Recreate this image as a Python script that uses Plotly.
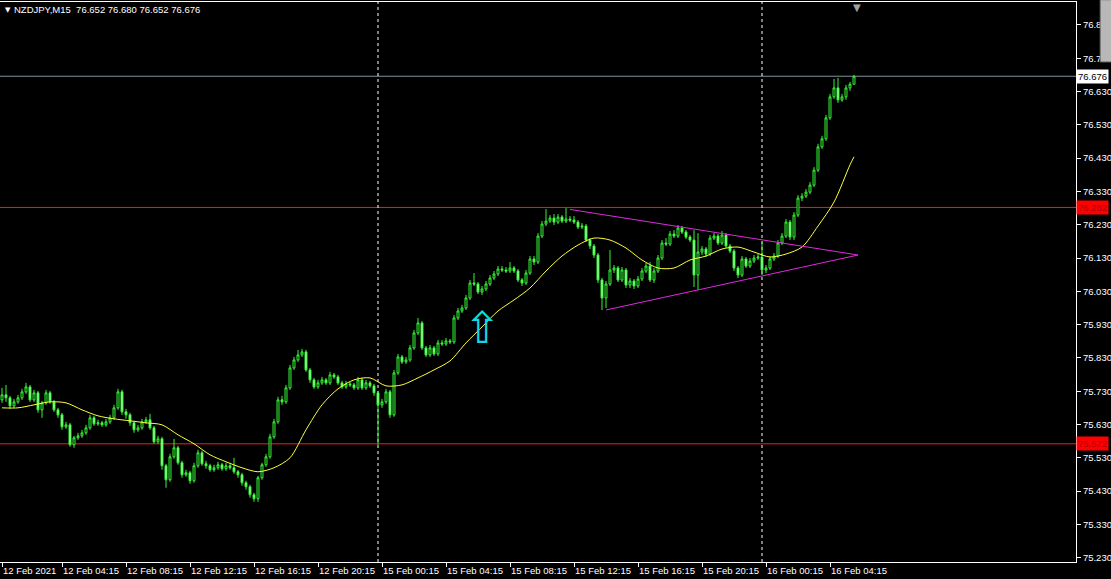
import plotly.graph_objects as go

# ---------------- data (NZDJPY, M15) ----------------
OPEN = [
 75.704, 75.719, 75.710, 75.686, 75.698, 75.710, 75.728, 75.743, 75.704, 75.725,
 75.674, 75.695, 75.725, 75.698, 75.674, 75.659, 75.623, 75.629, 75.569, 75.590,
 75.596, 75.605, 75.620, 75.650, 75.632, 75.635, 75.629, 75.638, 75.650, 75.680,
 75.728, 75.668, 75.659, 75.635, 75.614, 75.620, 75.638, 75.644, 75.620, 75.578,
 75.587, 75.506, 75.464, 75.533, 75.560, 75.515, 75.479, 75.485, 75.461, 75.506,
 75.545, 75.512, 75.506, 75.494, 75.500, 75.509, 75.497, 75.506, 75.500, 75.488,
 75.479, 75.455, 75.443, 75.419, 75.407, 75.470, 75.509, 75.533, 75.593, 75.638,
 75.704, 75.698, 75.740, 75.800, 75.824, 75.839, 75.848, 75.794, 75.764, 75.743,
 75.755, 75.764, 75.755, 75.779, 75.773, 75.755, 75.743, 75.752, 75.749, 75.740,
 75.764, 75.740, 75.755, 75.746, 75.725, 75.689, 75.698, 75.728, 75.659, 75.785,
 75.833, 75.818, 75.824, 75.860, 75.905, 75.935, 75.860, 75.839, 75.860, 75.842,
 75.875, 75.872, 75.881, 75.878, 75.950, 75.971, 75.980, 76.010, 76.055, 76.052,
 76.028, 76.037, 76.052, 76.070, 76.082, 76.097, 76.094, 76.091, 76.100, 76.091,
 76.064, 76.055, 76.085, 76.127, 76.118, 76.196, 76.232, 76.241, 76.250, 76.238,
 76.253, 76.241, 76.247, 76.244, 76.238, 76.223, 76.226, 76.184, 76.166, 76.139,
 76.064, 76.010, 76.052, 76.094, 76.100, 76.064, 76.094, 76.049, 76.061, 76.046,
 76.067, 76.091, 76.106, 76.064, 76.091, 76.130, 76.175, 76.172, 76.202, 76.196,
 76.220, 76.208, 76.193, 76.184, 76.079, 76.148, 76.157, 76.142, 76.190, 76.196,
 76.175, 76.199, 76.166, 76.151, 76.100, 76.079, 76.127, 76.106, 76.121, 76.130,
 76.133, 76.094, 76.100, 76.127, 76.136, 76.175, 76.196, 76.238, 76.193, 76.259,
 76.310, 76.316, 76.328, 76.349, 76.394, 76.464, 76.488, 76.551, 76.614, 76.641,
 76.605, 76.614, 76.641, 76.652]

HIGH = [
 75.740, 75.749, 75.716, 75.707, 75.719, 75.737, 75.755, 75.749, 75.734, 75.731,
 75.701, 75.734, 75.731, 75.704, 75.680, 75.665, 75.638, 75.635, 75.596, 75.605,
 75.614, 75.629, 75.659, 75.656, 75.644, 75.641, 75.647, 75.659, 75.689, 75.737,
 75.734, 75.677, 75.665, 75.641, 75.629, 75.647, 75.653, 75.662, 75.626, 75.596,
 75.593, 75.512, 75.542, 75.587, 75.566, 75.521, 75.494, 75.491, 75.515, 75.554,
 75.551, 75.521, 75.512, 75.509, 75.518, 75.515, 75.515, 75.515, 75.530, 75.494,
 75.485, 75.461, 75.449, 75.425, 75.476, 75.515, 75.542, 75.602, 75.647, 75.713,
 75.716, 75.749, 75.809, 75.833, 75.854, 75.857, 75.854, 75.800, 75.770, 75.764,
 75.773, 75.770, 75.788, 75.785, 75.779, 75.761, 75.761, 75.758, 75.755, 75.773,
 75.770, 75.764, 75.761, 75.752, 75.731, 75.707, 75.737, 75.734, 75.794, 75.842,
 75.839, 75.833, 75.869, 75.914, 75.950, 75.941, 75.866, 75.869, 75.866, 75.884,
 75.884, 75.890, 75.887, 75.959, 75.980, 75.989, 76.019, 76.064, 76.085, 76.058,
 76.046, 76.061, 76.079, 76.091, 76.106, 76.106, 76.103, 76.118, 76.106, 76.097,
 76.070, 76.094, 76.136, 76.136, 76.205, 76.241, 76.277, 76.259, 76.262, 76.262,
 76.259, 76.280, 76.256, 76.256, 76.244, 76.235, 76.232, 76.190, 76.172, 76.145,
 76.070, 76.061, 76.154, 76.109, 76.106, 76.103, 76.100, 76.070, 76.067, 76.076,
 76.100, 76.115, 76.118, 76.100, 76.139, 76.184, 76.190, 76.211, 76.214, 76.229,
 76.226, 76.214, 76.199, 76.214, 76.205, 76.166, 76.163, 76.199, 76.205, 76.202,
 76.211, 76.205, 76.172, 76.157, 76.106, 76.136, 76.133, 76.130, 76.139, 76.142,
 76.178, 76.109, 76.136, 76.145, 76.184, 76.205, 76.247, 76.244, 76.268, 76.319,
 76.325, 76.337, 76.358, 76.403, 76.473, 76.497, 76.560, 76.623, 76.668, 76.671,
 76.623, 76.650, 76.659, 76.680]

LOW = [
 75.695, 75.698, 75.677, 75.680, 75.692, 75.704, 75.722, 75.698, 75.698, 75.665,
 75.650, 75.689, 75.692, 75.668, 75.650, 75.614, 75.617, 75.563, 75.560, 75.584,
 75.590, 75.599, 75.614, 75.626, 75.626, 75.623, 75.623, 75.632, 75.644, 75.674,
 75.659, 75.647, 75.626, 75.605, 75.608, 75.614, 75.632, 75.614, 75.572, 75.572,
 75.494, 75.440, 75.458, 75.527, 75.509, 75.470, 75.473, 75.452, 75.455, 75.500,
 75.506, 75.497, 75.488, 75.488, 75.494, 75.491, 75.491, 75.494, 75.482, 75.470,
 75.446, 75.434, 75.410, 75.398, 75.398, 75.464, 75.503, 75.527, 75.587, 75.632,
 75.689, 75.692, 75.734, 75.794, 75.818, 75.833, 75.788, 75.755, 75.737, 75.737,
 75.749, 75.749, 75.749, 75.767, 75.749, 75.737, 75.737, 75.743, 75.734, 75.734,
 75.734, 75.734, 75.740, 75.716, 75.569, 75.680, 75.692, 75.650, 75.653, 75.779,
 75.812, 75.812, 75.818, 75.854, 75.899, 75.854, 75.833, 75.833, 75.836, 75.836,
 75.866, 75.866, 75.872, 75.872, 75.944, 75.965, 75.974, 76.004, 76.046, 76.022,
 76.019, 76.031, 76.046, 76.064, 76.076, 76.088, 76.085, 76.085, 76.085, 76.058,
 76.046, 76.049, 76.079, 76.109, 76.112, 76.190, 76.226, 76.235, 76.229, 76.232,
 76.235, 76.235, 76.238, 76.232, 76.217, 76.217, 76.178, 76.157, 76.130, 76.055,
 75.974, 75.980, 76.046, 76.085, 76.058, 76.058, 76.040, 76.040, 76.037, 76.040,
 76.061, 76.085, 76.058, 76.055, 76.085, 76.124, 76.166, 76.166, 76.190, 76.190,
 76.202, 76.187, 76.178, 76.043, 76.034, 76.139, 76.133, 76.136, 76.184, 76.169,
 76.169, 76.160, 76.145, 76.091, 76.070, 76.073, 76.100, 76.100, 76.115, 76.124,
 76.079, 76.085, 76.094, 76.121, 76.130, 76.169, 76.190, 76.184, 76.184, 76.253,
 76.301, 76.310, 76.322, 76.343, 76.388, 76.458, 76.482, 76.545, 76.608, 76.596,
 76.599, 76.605, 76.632, 76.652]

CLOSE = [
 75.719, 75.710, 75.686, 75.698, 75.710, 75.728, 75.743, 75.704, 75.725, 75.674,
 75.695, 75.725, 75.698, 75.674, 75.659, 75.623, 75.629, 75.569, 75.590, 75.596,
 75.605, 75.620, 75.650, 75.632, 75.635, 75.629, 75.638, 75.650, 75.680, 75.728,
 75.668, 75.659, 75.635, 75.614, 75.620, 75.638, 75.644, 75.620, 75.578, 75.587,
 75.506, 75.464, 75.533, 75.560, 75.515, 75.479, 75.485, 75.461, 75.506, 75.545,
 75.512, 75.506, 75.494, 75.500, 75.509, 75.497, 75.506, 75.500, 75.488, 75.479,
 75.455, 75.443, 75.419, 75.407, 75.470, 75.509, 75.533, 75.593, 75.638, 75.704,
 75.698, 75.740, 75.800, 75.824, 75.839, 75.848, 75.794, 75.764, 75.743, 75.755,
 75.764, 75.755, 75.779, 75.773, 75.755, 75.743, 75.752, 75.749, 75.740, 75.764,
 75.740, 75.755, 75.746, 75.725, 75.689, 75.698, 75.728, 75.659, 75.785, 75.833,
 75.818, 75.824, 75.860, 75.905, 75.935, 75.860, 75.839, 75.860, 75.842, 75.875,
 75.872, 75.881, 75.878, 75.950, 75.971, 75.980, 76.010, 76.055, 76.052, 76.028,
 76.037, 76.052, 76.070, 76.082, 76.097, 76.094, 76.091, 76.100, 76.091, 76.064,
 76.055, 76.085, 76.127, 76.118, 76.196, 76.232, 76.241, 76.250, 76.238, 76.253,
 76.241, 76.247, 76.244, 76.238, 76.223, 76.226, 76.184, 76.166, 76.139, 76.064,
 76.010, 76.052, 76.094, 76.100, 76.064, 76.094, 76.049, 76.061, 76.046, 76.067,
 76.091, 76.106, 76.064, 76.091, 76.130, 76.175, 76.172, 76.202, 76.196, 76.220,
 76.208, 76.193, 76.184, 76.079, 76.148, 76.157, 76.142, 76.190, 76.196, 76.175,
 76.199, 76.166, 76.151, 76.100, 76.079, 76.127, 76.106, 76.121, 76.130, 76.133,
 76.094, 76.100, 76.127, 76.136, 76.175, 76.196, 76.238, 76.193, 76.259, 76.310,
 76.316, 76.328, 76.349, 76.394, 76.464, 76.488, 76.551, 76.614, 76.641, 76.605,
 76.614, 76.641, 76.652, 76.676]

# moving average (every 4th bar + last bar)
MA_BARS = [0, 4, 8, 12, 16, 20, 24, 28, 32, 36, 40, 44, 48, 52, 56, 60, 64, 68, 72, 76,
           80, 84, 88, 92, 96, 100, 104, 108, 112, 116, 120, 124, 128, 132, 136, 140,
           144, 148, 152, 156, 160, 164, 168, 172, 176, 180, 184, 188, 192, 196, 200,
           204, 208, 212, 213]
MA_VALUES = [
 75.680, 75.680, 75.689, 75.698, 75.695, 75.674, 75.656, 75.647, 75.641, 75.635,
 75.629, 75.599, 75.572, 75.539, 75.518, 75.500, 75.488, 75.500, 75.530, 75.614,
 75.689, 75.737, 75.764, 75.770, 75.746, 75.749, 75.770, 75.794, 75.821, 75.875,
 75.923, 75.971, 76.004, 76.040, 76.091, 76.136, 76.169, 76.190, 76.184, 76.160,
 76.124, 76.100, 76.100, 76.124, 76.136, 76.157, 76.163, 76.148, 76.133, 76.142,
 76.163, 76.226, 76.298, 76.410, 76.434]

# triangle trendlines (bar index, price)
TRI_UPPER_X = [142, 214]
TRI_UPPER_Y = [76.276, 76.139]
TRI_LOWER_X = [151, 214]
TRI_LOWER_Y = [75.974, 76.139]

ARROW_BAR = 120
ARROW_PRICE = 75.921

RED_LEVELS = [76.282, 75.572]
BID_LEVEL = 76.676
SEPARATOR_BARS = [94, 190]

XTICK_BARS = [0, 15, 31, 47, 63, 79, 95, 111, 127, 143, 159, 175, 191, 207]
XTICK_LABELS = ["12 Feb 2021", "12 Feb 04:15", "12 Feb 08:15", "12 Feb 12:15",
                "12 Feb 16:15", "12 Feb 20:15", "15 Feb 00:15", "15 Feb 04:15",
                "15 Feb 08:15", "15 Feb 12:15", "15 Feb 16:15", "15 Feb 20:15",
                "16 Feb 00:15", "16 Feb 04:15"]
YTICKS = [76.830, 76.730, 76.630, 76.530, 76.430, 76.330, 76.230, 76.130, 76.030,
          75.930, 75.830, 75.730, 75.630, 75.530, 75.430, 75.330, 75.230]

TITLE = "NZDJPY,M15  76.652 76.680 76.652 76.676"

# ---------------- styling ----------------
GREEN = "#36F536"
BEAR_FILL = "#B4FFB4"
FONT = "Liberation Sans"
TXT = "#FFFFFF"
FS = 9.5

X = list(range(len(CLOSE)))

fig = go.Figure()
fig.add_trace(go.Candlestick(
    x=X, open=OPEN, high=HIGH, low=LOW, close=CLOSE,
    increasing=dict(line=dict(color=GREEN, width=1), fillcolor="#000000"),
    decreasing=dict(line=dict(color=GREEN, width=1), fillcolor=BEAR_FILL),
    whiskerwidth=0, hoverinfo="skip", showlegend=False))
fig.add_trace(go.Scatter(
    x=MA_BARS, y=MA_VALUES, mode="lines",
    line=dict(color="#FFFF3C", width=1, shape="spline", smoothing=0.8),
    hoverinfo="skip", showlegend=False))
for xs, ys in ((TRI_UPPER_X, TRI_UPPER_Y), (TRI_LOWER_X, TRI_LOWER_Y)):
    fig.add_trace(go.Scatter(x=xs, y=ys, mode="lines",
                             line=dict(color="#E028E0", width=1),
                             hoverinfo="skip", showlegend=False))

shapes = []
for lvl in RED_LEVELS:
    shapes.append(dict(type="line", xref="paper", x0=0, x1=1, yref="y", y0=lvl, y1=lvl,
                       line=dict(color="#FF1A1A", width=1), layer="below"))
shapes.append(dict(type="line", xref="paper", x0=0, x1=1, yref="y", y0=BID_LEVEL, y1=BID_LEVEL,
                   line=dict(color="#8090A0", width=1), layer="below"))
for b in SEPARATOR_BARS:
    shapes.append(dict(type="line", xref="x", x0=b, x1=b, yref="paper", y0=0, y1=1,
                       line=dict(color="#FFFFFF", width=1, dash="3px,3px"), layer="below"))
# grey scale box at the top right corner
shapes.append(dict(type="rect", xref="paper", yref="paper", x0=1.0225, x1=1.0335,
                   y0=0.893, y1=1.004, fillcolor="#B8B8B8", line=dict(color="#707070", width=1)))

annotations = [
    dict(text=TITLE, xref="paper", yref="paper", x=0.0115, y=0.986, xanchor="left",
         yanchor="middle", showarrow=False, font=dict(family=FONT, size=FS, color=TXT)),
    dict(text="▼", xref="paper", yref="paper", x=0.0025, y=0.986, xanchor="left",
         yanchor="middle", showarrow=False, font=dict(family="DejaVu Sans", size=7, color=TXT)),
    dict(text="▼", xref="paper", yref="paper", x=0.7965, y=1.004, xanchor="center",
         yanchor="top", showarrow=False, font=dict(family="DejaVu Sans", size=10, color="#A0A0A0")),
    dict(text="⇧", xref="x", yref="y", x=ARROW_BAR, y=ARROW_PRICE, showarrow=False,
         font=dict(family="DejaVu Sans", size=44, color="#10D8E8")),
    dict(text=f"{BID_LEVEL:.3f}", xref="paper", yref="y", x=1.0, y=BID_LEVEL, xanchor="left",
         yanchor="middle", showarrow=False, bgcolor="#FFFFFF", borderpad=1,
         font=dict(family=FONT, size=FS, color="#000000")),
]
for lvl in RED_LEVELS:
    annotations.append(dict(text=f"{lvl:.3f}", xref="paper", yref="y", x=1.0, y=lvl,
                            xanchor="left", yanchor="middle", showarrow=False,
                            bgcolor="#FF0000", borderpad=1,
                            font=dict(family=FONT, size=FS, color="#B00000")))

fig.update_layout(
    width=1111, height=579,
    margin=dict(l=0, r=35, t=2, b=17, autoexpand=False),
    paper_bgcolor="#000000", plot_bgcolor="#000000",
    showlegend=False,
    shapes=shapes, annotations=annotations,
    xaxis=dict(range=[-0.5, 268.5], showgrid=False, zeroline=False,
               showline=True, linecolor="#FFFFFF", linewidth=1, mirror=True,
               ticks="outside", ticklen=4, tickcolor="#FFFFFF", tickangle=0,
               tickvals=XTICK_BARS, ticktext=XTICK_LABELS,
               ticklabelposition="outside right", ticklabelstandoff=0,
               tickfont=dict(family=FONT, size=FS, color=TXT),
               rangeslider=dict(visible=False), automargin=False, fixedrange=True),
    yaxis=dict(range=[75.217, 76.899], side="right", showgrid=False, zeroline=False,
               showline=True, linecolor="#FFFFFF", linewidth=1,
               ticks="outside", ticklen=4, tickcolor="#FFFFFF", ticklabelstandoff=0,
               tickvals=YTICKS, ticktext=[f"{v:.3f}" for v in YTICKS],
               tickfont=dict(family=FONT, size=FS, color=TXT),
               automargin=False, fixedrange=True),
)

fig.write_html("out.html",
               config={"displayModeBar": False, "staticPlot": True},
               post_script="document.body.style.margin='0';document.body.style.padding='0';"
                           "document.body.style.background='#000';"
                           "document.documentElement.style.overflow='hidden';")
